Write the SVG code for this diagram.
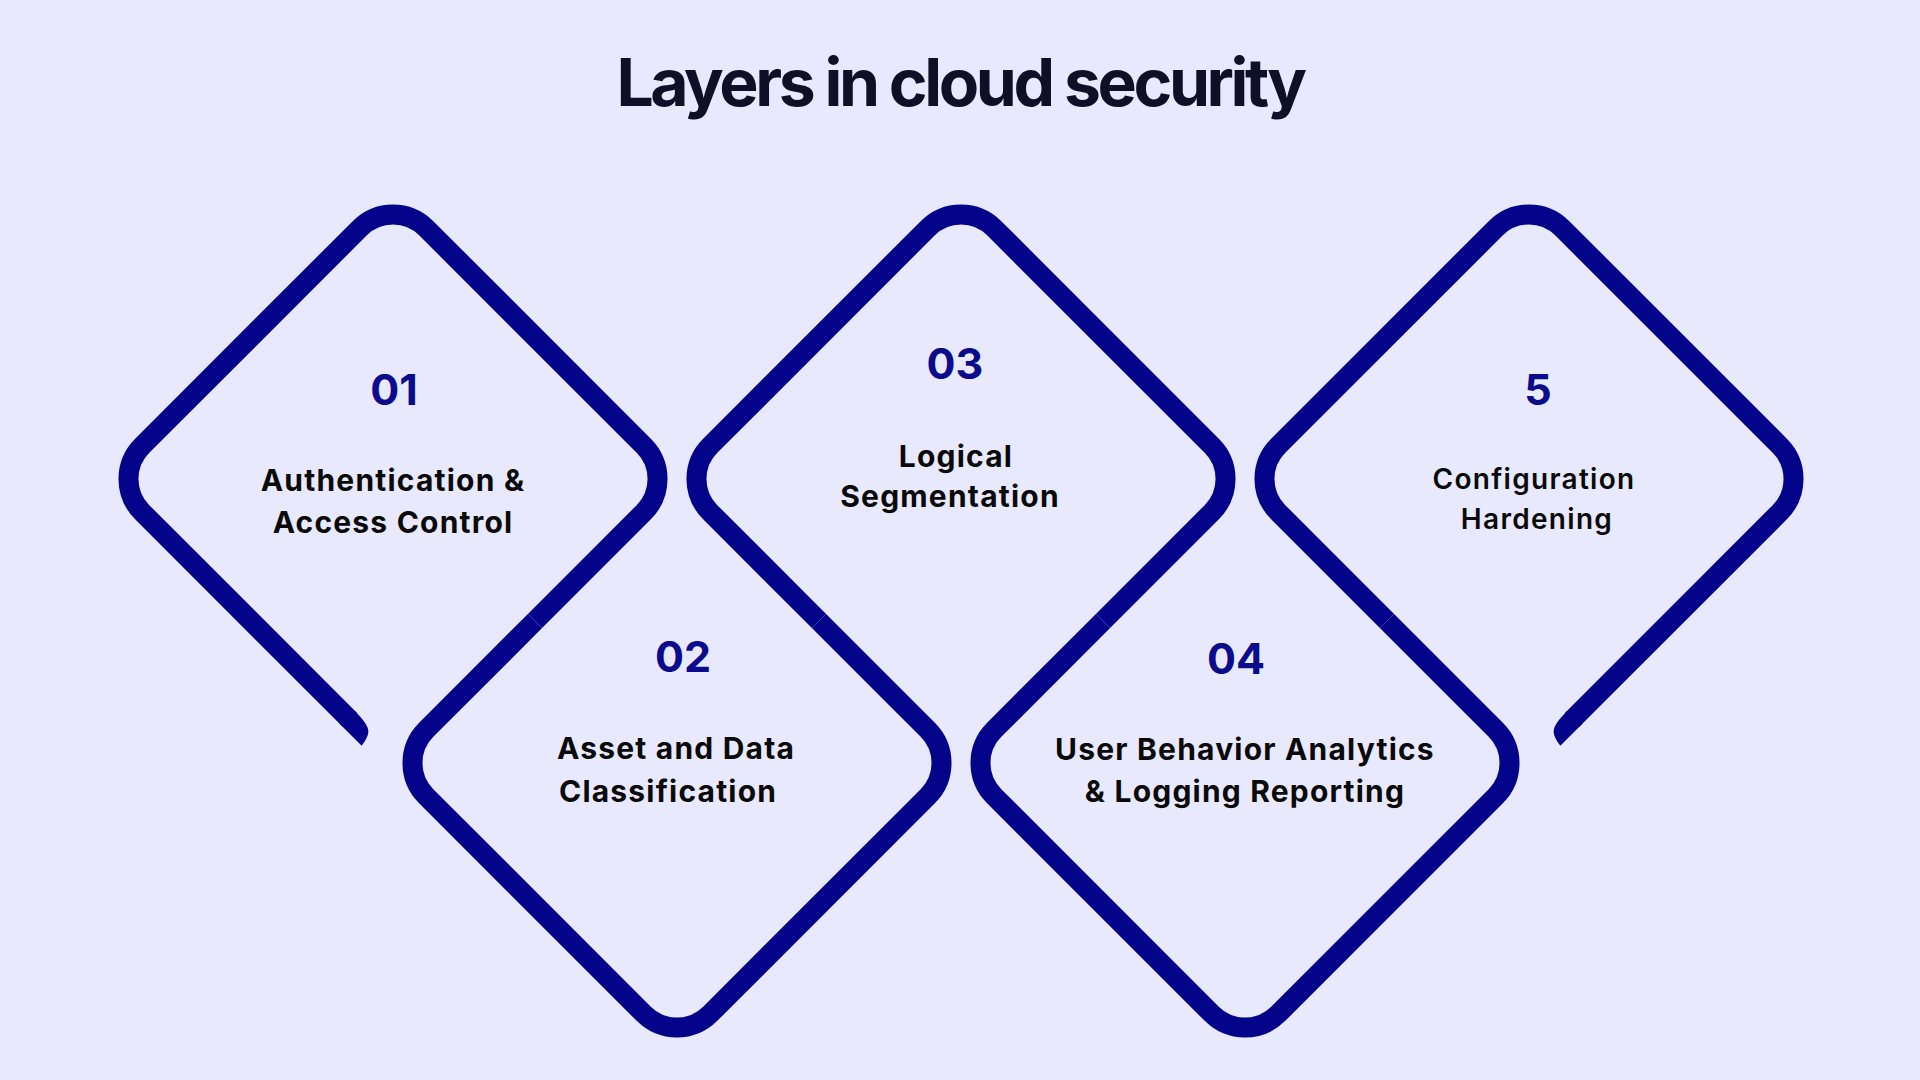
<svg xmlns="http://www.w3.org/2000/svg" width="1920" height="1080" viewBox="0 0 1920 1080">
<defs>
<style>
.bg{fill:#e8e9fd}
.ring{fill:none;stroke:#04048a;stroke-width:20;stroke-linecap:butt;stroke-linejoin:round}
.ring-end{fill:#04048a;stroke:none}
.title{font-family:Inter,"Liberation Sans",sans-serif;font-weight:700;font-size:66px;letter-spacing:-3.4px;fill:#0d1026;text-anchor:middle}
.num{font-family:Inter,"Liberation Sans",sans-serif;font-weight:700;font-size:43px;fill:#0b0b8c;text-anchor:middle}
.lbl{font-family:Inter,"Liberation Sans",sans-serif;font-weight:700;font-size:30px;letter-spacing:1.2px;fill:#0a0a0a;text-anchor:middle}
.lbl-start{text-anchor:start}
.lbl-med{font-family:Inter,"Liberation Sans",sans-serif;font-weight:600;font-size:28px;letter-spacing:1.3px;fill:#0a0a0a;text-anchor:middle}
</style>
</defs>
<rect class="bg" x="0" y="0" width="1920" height="1080"/>
<text class="title" x="960" y="106">Layers in cloud security</text>

<g id="connectors"></g>

<g id="node-01">
<path class="ring" d="M350,720 L142.23,512.23 A47,47 0 0 1 142.23,445.77 L359.77,228.23 A47,47 0 0 1 426.23,228.23 L643.77,445.77 A47,47 0 0 1 643.77,512.23 L535,621"/>
<path class="ring-end" d="M339.4,723.5 L361.7,745.8 C366,740 369.5,734 368,729 C366.5,723 361,717.5 355,710.9 Z"/>
<text class="num" x="394" y="405">01</text>
<text class="lbl" x="393" y="491">Authentication &amp;</text>
<text class="lbl" x="393" y="533">Access Control</text>
</g>

<g id="node-02">
<path class="ring" d="M535,621 L426.23,729.77 A47,47 0 0 0 426.23,796.23 L643.77,1013.77 A47,47 0 0 0 710.23,1013.77 L927.77,796.23 A47,47 0 0 0 927.77,729.77 L819,621"/>
<text class="num" x="683" y="672">02</text>
<text class="lbl lbl-start" x="557" y="759">Asset and Data</text>
<text class="lbl lbl-start" x="559" y="802">Classification</text>
</g>

<g id="node-03">
<path class="ring" d="M819,621 L710.23,512.23 A47,47 0 0 1 710.23,445.77 L927.77,228.23 A47,47 0 0 1 994.23,228.23 L1211.77,445.77 A47,47 0 0 1 1211.77,512.23 L1103,621"/>
<text class="num" x="955" y="379">03</text>
<text class="lbl" x="956" y="467">Logical</text>
<text class="lbl" x="950" y="507">Segmentation</text>
</g>

<g id="node-04">
<path class="ring" d="M1103,621 L994.23,729.77 A47,47 0 0 0 994.23,796.23 L1211.77,1013.77 A47,47 0 0 0 1278.23,1013.77 L1495.77,796.23 A47,47 0 0 0 1495.77,729.77 L1387,621"/>
<text class="num" x="1236" y="674">04</text>
<text class="lbl" x="1245" y="760">User Behavior Analytics</text>
<text class="lbl" x="1245" y="802">&amp; Logging Reporting</text>
</g>

<g id="node-05">
<path class="ring" d="M1387,621 L1278.23,512.23 A47,47 0 0 1 1278.23,445.77 L1495.77,228.23 A47,47 0 0 1 1562.23,228.23 L1779.77,445.77 A47,47 0 0 1 1779.77,512.23 L1572,720"/>
<path class="ring-end" d="M1582.6,723.5 L1560.3,745.8 C1556,740 1552.5,734 1554,729 C1555.5,723 1561,717.5 1567,710.9 Z"/>
<text class="num" x="1538" y="405">5</text>
<text class="lbl-med" x="1534" y="489">Configuration</text>
<text class="lbl-med" x="1537" y="529">Hardening</text>
</g>
</svg>
